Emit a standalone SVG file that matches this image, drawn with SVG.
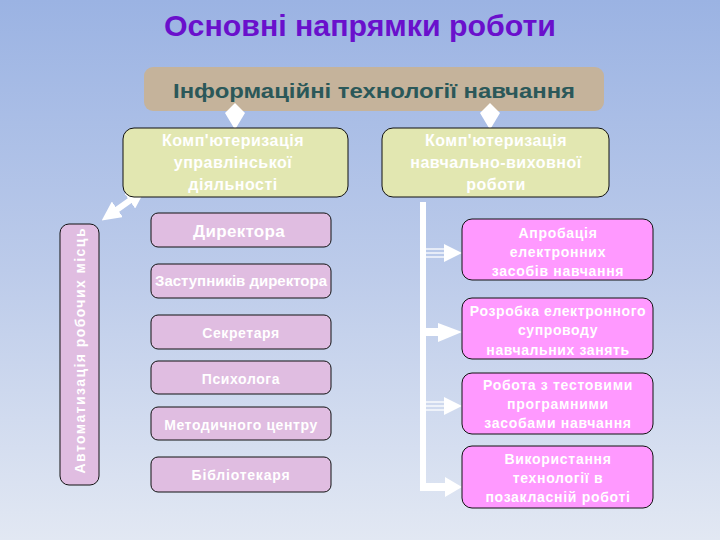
<svg xmlns="http://www.w3.org/2000/svg" width="720" height="540" viewBox="0 0 720 540">
<defs>
<linearGradient id="bg" x1="0" y1="0" x2="0" y2="1">
<stop offset="0" stop-color="#9bb3e3"/>
<stop offset="0.5" stop-color="#bccbea"/>
<stop offset="1" stop-color="#e2e8f3"/>
</linearGradient>
<marker id="ah" viewBox="0 0 10 10" refX="6" refY="5" markerWidth="3.2" markerHeight="3.2" orient="auto-start-reverse" markerUnits="strokeWidth">
<path d="M0,0 L10,5 L0,10 Z" fill="#ffffff"/>
</marker>
<style>
.t{font-family:"Liberation Sans",Arial,sans-serif;font-weight:bold;fill:#ffffff;text-anchor:middle}
.green{fill:#e2e7b1;stroke:#111;stroke-width:1}
.lp{fill:#e0bde1;stroke:#111;stroke-width:1}
.mp{fill:#ff99ff;stroke:#111;stroke-width:1}
.w{fill:#ffffff}
.tl{stroke:#ffffff;stroke-width:1.3}
</style>
</defs>
<rect x="0" y="0" width="720" height="540" fill="url(#bg)"/>
<text x="360" y="36" font-family="Liberation Sans,Arial,sans-serif" font-weight="bold" font-size="30" fill="#6a10cc" text-anchor="middle" textLength="392" lengthAdjust="spacingAndGlyphs">Основні напрямки роботи</text>

<g id="header">
<rect x="144" y="67" width="460" height="44" rx="9" fill="#c5b39b"/>
<text x="374" y="98" font-family="Liberation Sans,Arial,sans-serif" font-weight="bold" font-size="21" fill="#2b5859" text-anchor="middle" textLength="402" lengthAdjust="spacingAndGlyphs">Інформаційні технології навчання</text>
</g>

<g id="connectors">
<polygon class="w" points="235,103 245,113 236,128 234,128 225,113"/>
<polygon class="w" points="490,103 500,113 491,128 489,128 480,113"/>
<line x1="139" y1="194" x2="108" y2="216" stroke="#ffffff" stroke-width="6" marker-start="url(#ah)" marker-end="url(#ah)"/>
<rect class="w" x="420" y="202" width="6" height="289"/>
<line class="tl" x1="426" y1="249" x2="446" y2="249"/>
<line class="tl" x1="426" y1="253" x2="446" y2="253"/>
<line class="tl" x1="426" y1="257" x2="446" y2="257"/>
<polygon class="w" points="444,244 462,253 444,262"/>
<rect class="w" x="426" y="328" width="14" height="8"/>
<polygon class="w" points="438,323 462,332 438,342"/>
<line class="tl" x1="426" y1="402" x2="446" y2="402"/>
<line class="tl" x1="426" y1="406" x2="446" y2="406"/>
<line class="tl" x1="426" y1="410" x2="446" y2="410"/>
<polygon class="w" points="444,397 462,406 444,415"/>
<rect class="w" x="420" y="483" width="28" height="8"/>
<polygon class="w" points="445,477 462,487 445,497"/>
</g>

<g id="comp-upr">
<rect class="green" x="123" y="128" width="225" height="69" rx="11"/>
<text class="t" font-size="16" letter-spacing="0.5"><tspan x="233" y="146">Комп'ютеризація</tspan><tspan x="233" y="168">управлінської</tspan><tspan x="233" y="190">діяльності</tspan></text>
</g>
<g id="comp-navch">
<rect class="green" x="382" y="128" width="227" height="69" rx="11"/>
<text class="t" font-size="16" letter-spacing="0.5"><tspan x="496" y="146">Комп'ютеризація</tspan><tspan x="496" y="168">навчально-виховної</tspan><tspan x="496" y="190">роботи</tspan></text>
</g>

<g id="avtomatyzatsiia">
<rect class="lp" x="60" y="224" width="39" height="261" rx="9"/>
<text class="t" font-size="14" transform="rotate(-90 85 351)" x="85" y="351" textLength="245" lengthAdjust="spacing">Автоматизація робочих місць</text>
</g>

<g id="dyrektora">
<rect class="lp" x="151" y="213" width="180" height="34" rx="7"/>
<text class="t" x="239" y="237" font-size="17" letter-spacing="0.3">Директора</text>
</g>
<g id="zastupnykiv">
<rect class="lp" x="151" y="264" width="180" height="34" rx="7"/>
<text class="t" x="241" y="286" font-size="14" textLength="172" lengthAdjust="spacingAndGlyphs">Заступників директора</text>
</g>
<g id="sekretaria">
<rect class="lp" x="151" y="315" width="180" height="34" rx="7"/>
<text class="t" x="241" y="338" font-size="14" letter-spacing="0.6">Секретаря</text>
</g>
<g id="psykholoha">
<rect class="lp" x="151" y="361" width="180" height="33" rx="7"/>
<text class="t" x="241" y="384" font-size="14" letter-spacing="0.6">Психолога</text>
</g>
<g id="metodychnoho">
<rect class="lp" x="151" y="407" width="180" height="33" rx="7"/>
<text class="t" x="241" y="430" font-size="14" letter-spacing="0.6">Методичного центру</text>
</g>
<g id="bibliotekaria">
<rect class="lp" x="151" y="457" width="180" height="35" rx="7"/>
<text class="t" x="241" y="480" font-size="14" letter-spacing="0.8">Бібліотекаря</text>
</g>

<g id="aprobatsiia">
<rect class="mp" x="462" y="219" width="191" height="61" rx="10"/>
<text class="t" font-size="14" letter-spacing="0.7"><tspan x="558" y="238">Апробація</tspan><tspan x="558" y="257">електронних</tspan><tspan x="558" y="276">засобів навчання</tspan></text>
</g>
<g id="rozrobka">
<rect class="mp" x="462" y="298" width="191" height="61" rx="10"/>
<text class="t" font-size="14" letter-spacing="0.6"><tspan x="558" y="316">Розробка електронного</tspan><tspan x="558" y="335">супроводу</tspan><tspan x="558" y="355">навчальних занять</tspan></text>
</g>
<g id="robota">
<rect class="mp" x="462" y="373" width="191" height="61" rx="10"/>
<text class="t" font-size="14" letter-spacing="0.7"><tspan x="558" y="390">Робота з тестовими</tspan><tspan x="558" y="409">програмними</tspan><tspan x="558" y="428">засобами навчання</tspan></text>
</g>
<g id="vykorystannia">
<rect class="mp" x="462" y="446" width="191" height="62" rx="10"/>
<text class="t" font-size="14" letter-spacing="0.7"><tspan x="558" y="464">Використання</tspan><tspan x="558" y="483">технології в</tspan><tspan x="558" y="502">позакласній роботі</tspan></text>
</g>
</svg>
